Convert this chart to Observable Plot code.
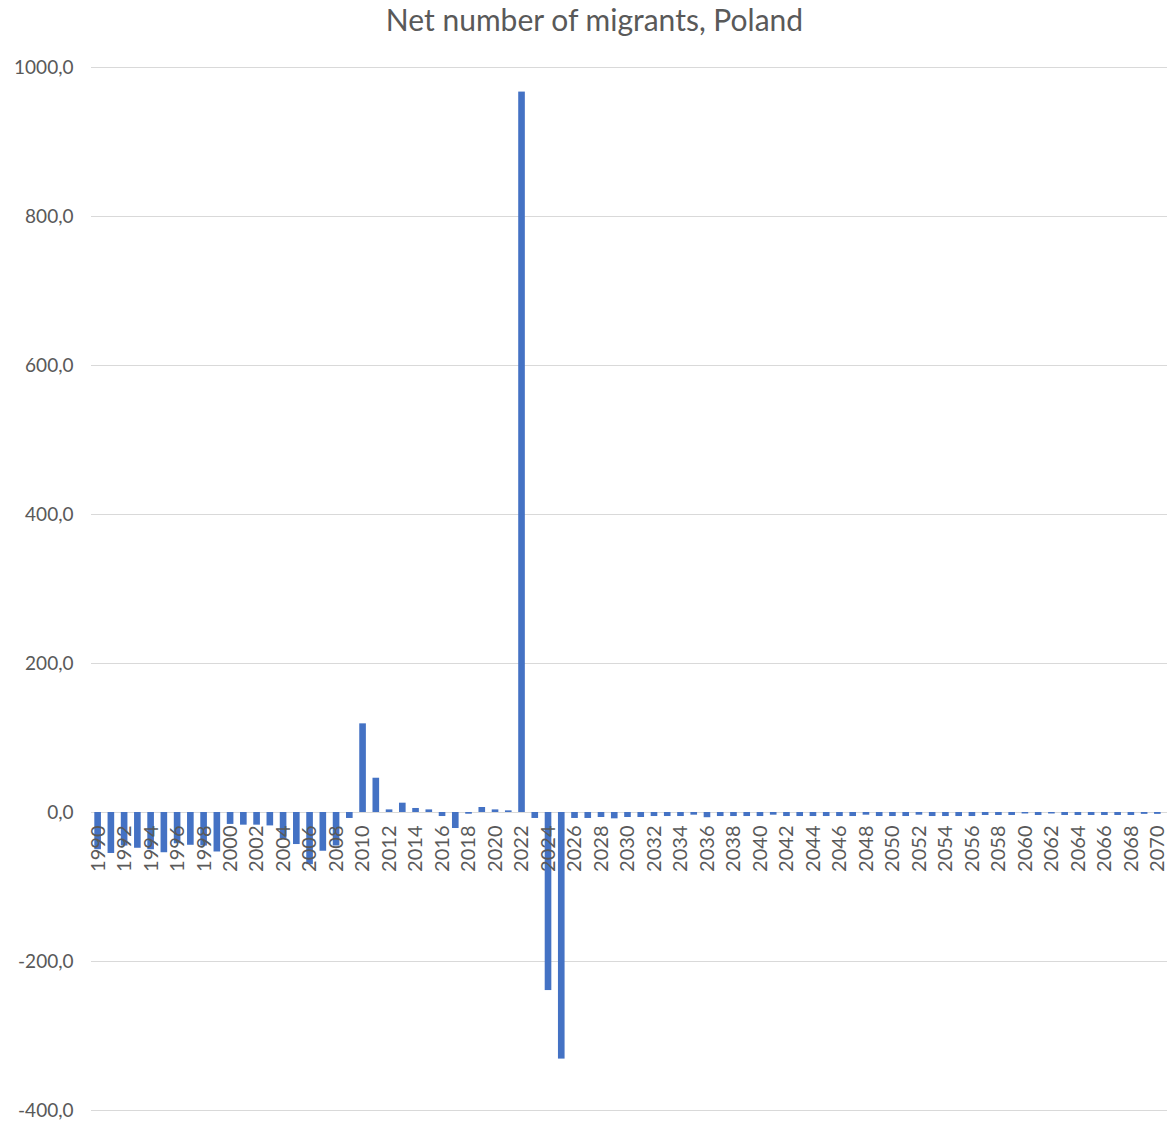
<!DOCTYPE html>
<html>
<head>
<meta charset="utf-8">
<script src="https://cdn.jsdelivr.net/npm/d3@7"></script>
<script src="https://cdn.jsdelivr.net/npm/@observablehq/plot@0.6"></script>
<style>
  html, body { margin: 0; padding: 0; background: #fff; }
  #wrap { width: 1169px; }
  #title {
    height: 40px; line-height: 38px; text-align: center; padding-left: 20px;
    font-family: Lato, "Open Sans", sans-serif; font-size: 30px; color: #595959;
  }
</style>
</head>
<body>
<div id="wrap">
  <div id="title">Net number of migrants, Poland</div>
  <div id="chart"></div>
</div>
<script>
// Years shown on the category axis
const years = [
  1990, 1991, 1992, 1993, 1994, 1995, 1996, 1997, 1998, 1999,
  2000, 2001, 2002, 2003, 2004, 2005, 2006, 2007, 2008, 2009,
  2010, 2011, 2012, 2013, 2014, 2015, 2016, 2017, 2018, 2019,
  2020, 2021, 2022, 2023, 2024, 2025, 2026, 2027, 2028, 2029,
  2030, 2031, 2032, 2033, 2034, 2035, 2036, 2037, 2038, 2039,
  2040, 2041, 2042, 2043, 2044, 2045, 2046, 2047, 2048, 2049,
  2050, 2051, 2052, 2053, 2054, 2055, 2056, 2057, 2058, 2059,
  2060, 2061, 2062, 2063, 2064, 2065, 2066, 2067, 2068, 2069,
  2070
];

// Net number of migrants (thousands)
const migrants = [
  -50, -55, -45, -48, -50, -54, -42, -44, -45, -53,
  -16, -17, -17, -18, -35, -43, -70, -52, -45, -8,
  119, 46, 3.5, 12.5, 5.4, 3.5, -5.4, -21.5, -2.3, 6.7,
  3.5, 2.2, 967, -8, -239, -331, -8, -8, -6.7, -8.5,
  -6.7, -6.7, -5.4, -5.4, -5.4, -3.6, -7, -5.4, -5.4, -5.4,
  -5.4, -3.6, -5.4, -5.4, -5.4, -5.4, -5.4, -5.4, -3.6, -5.4,
  -5.4, -5.4, -3.6, -5.4, -5.4, -5.4, -5.4, -4, -4, -4,
  -2, -4, -2, -4, -4, -4, -4, -4, -4, -2.5,
  -2.5
];

// Category labels drawn under the zero line
const yearLabels = [
  1990, 1992, 1994, 1996, 1998, 2000, 2002, 2004, 2006, 2008,
  2010, 2012, 2014, 2016, 2018, 2020, 2022, 2024, 2026, 2028,
  2030, 2032, 2034, 2036, 2038, 2040, 2042, 2044, 2046, 2048,
  2050, 2052, 2054, 2056, 2058, 2060, 2062, 2064, 2066, 2068,
  2070
];

// Value axis ticks
const yTicks = [-400, -200, 0, 200, 400, 600, 800, 1000];

const rows = years.map((year, i) => ({year, value: migrants[i]}));

const textColor = "#595959";
const gridColor = "#d9d9d9";
const fmt = v => v.toFixed(1).replace(".", ",");

const chart = Plot.plot({
  width: 1169,
  height: 1081,
  marginTop: 27,
  marginBottom: 11,
  marginLeft: 91,
  marginRight: 5,
  style: {fontFamily: "Lato, 'Open Sans', sans-serif", color: textColor, background: "#fff"},
  x: {type: "band", domain: years, paddingInner: 0.5, paddingOuter: 0.25, round: false, axis: null},
  y: {domain: [-400, 1000], ticks: yTicks, tickFormat: fmt},
  marks: [
    Plot.ruleY(yTicks, {stroke: gridColor, strokeWidth: 1, insetRight: -3}),
    Plot.barY(rows, {x: "year", y: "value", fill: "#4472C4"}),
    Plot.text(yearLabels, {
      x: d => d, y: () => 0, text: d => String(d),
      rotate: -90, textAnchor: "end", dy: 13,
      fontSize: 20, fill: textColor
    }),
    Plot.axisY({
      ticks: yTicks, tickFormat: fmt, tickSize: 0, tickPadding: 18,
      fontSize: 19, color: textColor, label: null
    })
  ]
});

document.getElementById("chart").appendChild(chart);
</script>
</body>
</html>
